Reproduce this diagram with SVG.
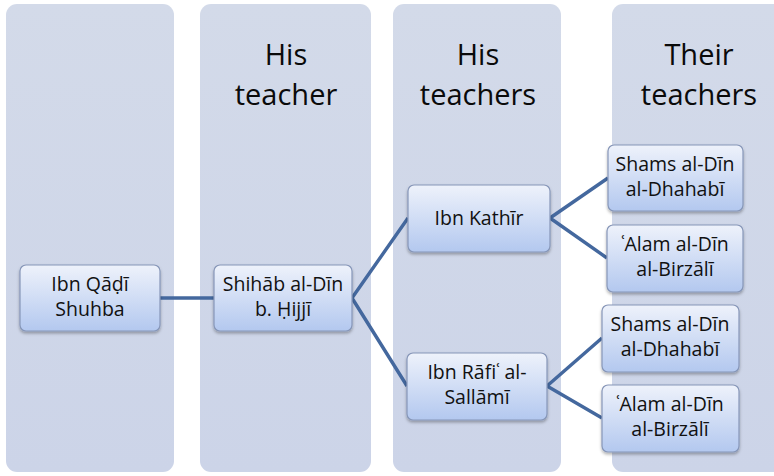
<svg xmlns="http://www.w3.org/2000/svg" width="774" height="476" viewBox="0 0 774 476">
<defs>
<linearGradient id="nodeGrad" x1="0" y1="0" x2="0" y2="1">
<stop offset="0" stop-color="#eef2fb"/>
<stop offset="1" stop-color="#b3c8ef"/>
</linearGradient>
<linearGradient id="panelGrad" x1="0" y1="0" x2="0" y2="1">
<stop offset="0" stop-color="#d3dae9"/>
<stop offset="1" stop-color="#ccd4e8"/>
</linearGradient>
<filter id="shadow" x="-10%" y="-10%" width="120%" height="130%">
<feDropShadow dx="0" dy="2" stdDeviation="1.5" flood-color="#000" flood-opacity="0.3"/>
</filter>
</defs>
<style>
.panel{fill:url(#panelGrad);}
.node rect{fill:url(#nodeGrad);stroke:#8696b8;stroke-width:1.2;filter:url(#shadow);}
.node text{font-family:"Open Sans","Noto Sans",sans-serif;font-size:19.5px;fill:#111;text-anchor:middle;}
.head{font-family:"Open Sans","Noto Sans",sans-serif;font-size:29px;fill:#0a0a0a;text-anchor:middle;}
.conn{stroke:#44689e;stroke-width:3.4;fill:none;stroke-linejoin:round;}
</style>
<rect width="774" height="476" fill="#ffffff"/>
<g id="panels">
<rect class="panel" x="6" y="4" width="168" height="468" rx="11"/>
<rect class="panel" x="200" y="4" width="171" height="468" rx="11"/>
<rect class="panel" x="393" y="4" width="168" height="468" rx="11"/>
<rect class="panel" x="612" y="4" width="174" height="468" rx="11"/>
</g>
<g id="headers">
<text class="head" x="286" y="65">His</text>
<text class="head" x="286" y="105">teacher</text>
<text class="head" x="478" y="65">His</text>
<text class="head" x="478" y="105">teachers</text>
<text class="head" x="699" y="65">Their</text>
<text class="head" x="699" y="105">teachers</text>
</g>
<g id="connectors">
<line class="conn" x1="160" y1="298" x2="214" y2="298"/>
<polyline class="conn" points="408,218 352,298 407,386"/>
<polyline class="conn" points="608,178 550,218 607,258"/>
<polyline class="conn" points="602,338 547,386 602,418"/>
</g>
<g id="n-qadi" class="node">
<rect x="20" y="265" width="140" height="66" rx="6"/>
<text x="90" y="291">Ibn Qāḍī</text>
<text x="90" y="316">Shuhba</text>
</g>
<g id="n-shihab" class="node">
<rect x="214" y="265" width="138" height="66" rx="6"/>
<text x="283" y="291">Shihāb al-Dīn</text>
<text x="283" y="316">b. Ḥijjī</text>
</g>
<g id="n-kathir" class="node">
<rect x="408" y="185" width="142" height="67" rx="6"/>
<text x="479" y="225">Ibn Kathīr</text>
</g>
<g id="n-rafi" class="node">
<rect x="407" y="353" width="140" height="67" rx="6"/>
<text x="477" y="379">Ibn Rāfiʿ al-</text>
<text x="477" y="404">Sallāmī</text>
</g>
<g id="n-shams1" class="node">
<rect x="608" y="145" width="135" height="66" rx="6"/>
<text x="675" y="171">Shams al-Dīn</text>
<text x="675" y="196">al-Dhahabī</text>
</g>
<g id="n-alam1" class="node">
<rect x="607" y="225" width="136" height="67" rx="6"/>
<text x="675" y="251">ʿAlam al-Dīn</text>
<text x="675" y="276">al-Birzālī</text>
</g>
<g id="n-shams2" class="node">
<rect x="602" y="305" width="137" height="67" rx="6"/>
<text x="670" y="331">Shams al-Dīn</text>
<text x="670" y="356">al-Dhahabī</text>
</g>
<g id="n-alam2" class="node">
<rect x="602" y="385" width="137" height="67" rx="6"/>
<text x="670" y="411">ʿAlam al-Dīn</text>
<text x="670" y="436">al-Birzālī</text>
</g>
</svg>
